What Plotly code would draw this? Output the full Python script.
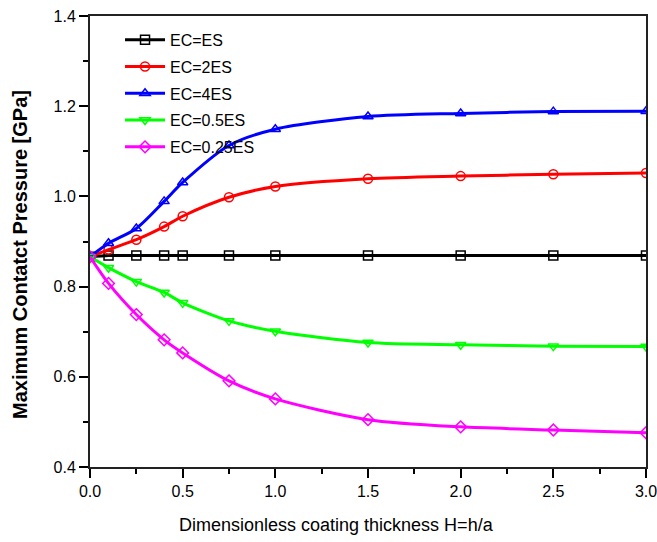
import plotly.graph_objects as go

H = [0.0, 0.1, 0.25, 0.4, 0.5, 0.75, 1.0, 1.5, 2.0, 2.5, 3.0]

ec_1 = [0.866, 0.869, 0.869, 0.869, 0.869, 0.869, 0.869, 0.869, 0.869, 0.869, 0.869]
ec_2 = [0.866, 0.882, 0.904, 0.933, 0.956, 0.998, 1.022, 1.039, 1.045, 1.049, 1.052]
ec_4 = [0.866, 0.896, 0.929, 0.989, 1.031, 1.113, 1.149, 1.177, 1.184, 1.188, 1.189]
ec_05 = [0.866, 0.842, 0.811, 0.787, 0.764, 0.724, 0.701, 0.676, 0.671, 0.668, 0.667]
ec_025 = [0.866, 0.807, 0.738, 0.682, 0.653, 0.591, 0.551, 0.505, 0.489, 0.482, 0.476]

x_ticks = [0, 0.5, 1.0, 1.5, 2.0, 2.5, 3.0]
x_labels = ["0.0", "0.5", "1.0", "1.5", "2.0", "2.5", "3.0"]
y_ticks = [0.4, 0.6, 0.8, 1.0, 1.2, 1.4]
y_labels = ["0.4", "0.6", "0.8", "1.0", "1.2", "1.4"]

x_title = "Dimensionless coating thickness H=h/a"
y_title = "Maximum Contatct Pressure [GPa]"

series = [
    ("EC=ES", ec_1, "#000000", "square-open"),
    ("EC=2ES", ec_2, "#ff0000", "circle-open"),
    ("EC=4ES", ec_4, "#0000ff", "triangle-up-open"),
    ("EC=0.5ES", ec_05, "#00ff00", "triangle-down-open"),
    ("EC=0.25ES", ec_025, "#ff00ff", "diamond-open"),
]

FONT = "Liberation Sans, Arial, sans-serif"

fig = go.Figure()
for i, (name, ys, col, sym) in enumerate(series):
    fig.add_trace(go.Scatter(
        x=H, y=ys, name=name, mode="lines+markers", legendgroup=f"g{i}",
        line=dict(color=col, width=3, shape="spline", smoothing=0.8),
        marker=dict(symbol=sym, size=9, color=col, line=dict(color=col, width=1.5)),
    ))

axis_font = dict(family=FONT, size=16, color="#000000")

fig.update_layout(
    width=657, height=542,
    margin=dict(l=90, r=11, t=16, b=75),
    paper_bgcolor="white", plot_bgcolor="white",
    showlegend=True,
    legend=dict(
        x=0.054, y=0.985, xanchor="left", yanchor="top",
        bgcolor="rgba(0,0,0,0)", borderwidth=0,
        font=dict(family=FONT, size=16, color="#000000"),
        itemwidth=40, tracegroupgap=3,
    ),
    xaxis=dict(
        range=[0, 3], tickvals=x_ticks, ticktext=x_labels,
        ticks="outside", ticklen=9, tickwidth=2, tickcolor="#000000",
        minor=dict(dtick=0.25, ticks="outside", ticklen=5, tickwidth=1.5, tickcolor="#000000", showgrid=False),
        showline=True, linecolor="#222222", linewidth=2, mirror=True,
        showgrid=False, zeroline=False, automargin=False,
        ticklabeloverflow="allow",
        tickfont=axis_font,
    ),
    yaxis=dict(
        range=[0.4, 1.4], tickvals=y_ticks, ticktext=y_labels,
        ticks="outside", ticklen=9, tickwidth=2, tickcolor="#000000",
        minor=dict(dtick=0.1, ticks="outside", ticklen=5, tickwidth=1.5, tickcolor="#000000", showgrid=False),
        showline=True, linecolor="#222222", linewidth=2, mirror=True,
        showgrid=False, zeroline=False, automargin=False,
        ticklabeloverflow="allow",
        tickfont=axis_font,
    ),
    annotations=[
        dict(text=x_title, xref="paper", yref="paper", x=0.444, y=0,
             xanchor="center", yanchor="middle", yshift=-58, showarrow=False,
             font=dict(family=FONT, size=18, color="#000000")),
        dict(text="<b>" + y_title + "</b>", xref="paper", yref="paper", x=0, y=0.47,
             xanchor="center", yanchor="middle", xshift=-70, textangle=-90, showarrow=False,
             font=dict(family=FONT, size=20, color="#000000")),
    ],
)

fig.write_html("out.html")
